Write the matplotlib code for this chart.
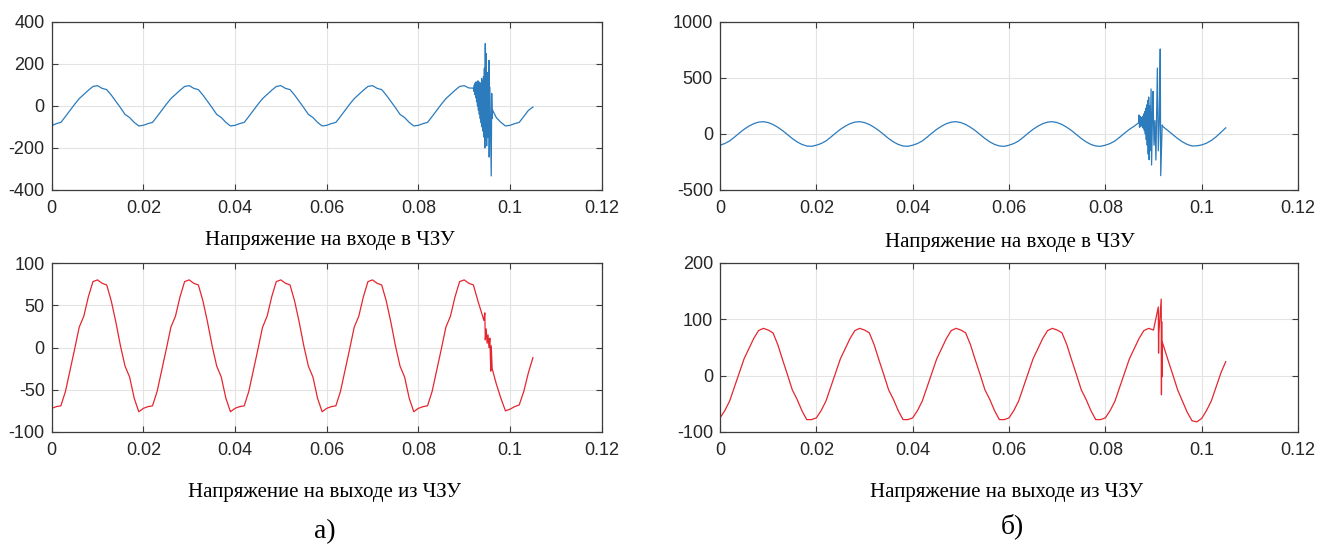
import matplotlib
matplotlib.use("Agg")
import matplotlib.pyplot as plt
import numpy as np

# ---------------- data (time in ms, value) ----------------
# Left top: input voltage (a)
lt_t = [0, 0.2] + list(range(1, 92)) + [
    92.0, 92.1, 92.2, 92.3, 92.4, 92.5, 92.6, 92.7, 92.8, 92.9, 93.0, 93.1, 93.2, 93.3,
    93.4, 93.5, 93.6, 93.7, 93.8, 93.9, 94.0, 94.1, 94.2, 94.3, 94.4, 94.5, 94.6, 94.7,
    94.8, 94.9, 95.0, 95.1, 95.2, 95.3, 95.4, 95.45, 95.6, 95.9, 96.0, 96.1, 96.2] + list(range(97, 106))
lt_v = [30, -92,
        -84, -78, -50, -21, 8, 35, 55, 75, 93, 97, 84, 78, 52, 22, -8, -40, -55, -78, -95,
        -92, -84, -78, -50, -21, 8, 35, 55, 75, 93, 97, 84, 78, 52, 22, -8, -40, -55, -78, -95,
        -92, -84, -78, -50, -21, 8, 35, 55, 75, 93, 97, 84, 78, 52, 22, -8, -40, -55, -78, -95,
        -92, -84, -78, -50, -21, 8, 35, 55, 75, 93, 97, 84, 78, 52, 22, -8, -40, -55, -78, -95,
        -92, -84, -78, -50, -21, 8, 35, 55, 75, 93, 97, 86,
        85, 70, 100, 55, 110, 40, 115, 20, 110, 0, 120, -20, 115, -40,
        100, -60, 110, -80, 130, -100, 120, -120, 140, -148, 180, -200, 297, -160,
        250, -190, 160, -150, 120, -120, 217, -243, 90, -333, 60, -60, -20,
        -55, -78, -95, -92, -84, -78, -50, -21, -5]

# Left bottom: output voltage (a)
lb_t = list(range(0, 94)) + [94.3, 94.5, 94.6, 94.8, 95.0, 95.2, 95.4, 95.6, 95.8, 95.9, 96.1] + list(range(97, 106))
lb_v = [-72, -70, -69, -52, -27, -2, 24, 37, 60, 78, 80, 76, 74, 55, 30, 2, -22, -35, -60, -76,
        -72, -70, -69, -52, -27, -2, 24, 37, 60, 78, 80, 76, 74, 55, 30, 2, -22, -35, -60, -76,
        -72, -70, -69, -52, -27, -2, 24, 37, 60, 78, 80, 76, 74, 55, 30, 2, -22, -35, -60, -76,
        -72, -70, -69, -52, -27, -2, 24, 37, 60, 78, 80, 76, 74, 55, 30, 2, -22, -35, -60, -76,
        -72, -70, -69, -52, -27, -2, 24, 37, 60, 78, 80, 76, 74, 55,
        32, 41, 9, 22, 5, 15, 0, 11, -28, 2, -25,
        -43, -60, -75, -73, -70, -68, -52, -30, -12]

# Right top: input voltage (б)
rt_t = list(range(0, 87)) + [
    86.9, 87.0, 87.1, 87.2, 87.3, 87.4, 87.5, 87.6, 87.7, 87.8, 87.9, 88.0, 88.1, 88.2,
    88.3, 88.4, 88.5, 88.6, 88.7, 88.8, 88.9, 89.0, 89.1, 89.2, 89.3, 89.5, 89.6, 89.8,
    89.9, 90.1, 90.3, 90.5, 90.8, 91.0, 91.2, 91.4, 91.5, 91.8] + list(range(92, 106))
rt_v = [-100, -85, -62, -28, 8, 42, 70, 92, 106, 110, 102, 85, 60, 30, -5, -40, -70, -93, -107, -110,
        -100, -85, -62, -28, 8, 42, 70, 92, 106, 110, 102, 85, 60, 30, -5, -40, -70, -93, -107, -110,
        -100, -85, -62, -28, 8, 42, 70, 92, 106, 110, 102, 85, 60, 30, -5, -40, -70, -93, -107, -110,
        -100, -85, -62, -28, 8, 42, 70, 92, 106, 110, 102, 85, 60, 30, -5, -40, -70, -93, -107, -110,
        -100, -85, -62, -28, 8, 42, 70,
        100, 170, 60, 160, 70, 140, 80, 150, 60, 160, 50, 180, 30, 200,
        0, 230, -50, 260, -100, 300, -180, 330, -230, 250, -150, 402, -277, 200,
        380, -100, 120, -232, 589, -150, 120, 759, -372, 80,
        65, 30, -5, -40, -70, -93, -107, -105, -98, -82, -58, -25, 15, 55]

# Right bottom: output voltage (б)
rb_t = list(range(0, 91)) + [91.0, 91.05, 91.1, 91.6, 91.65, 91.7, 91.75, 91.8] + list(range(92, 106))
rb_v = [-75, -62, -45, -20, 5, 30, 48, 66, 80, 84, 81, 76, 55, 28, 2, -25, -42, -62, -78, -78,
        -75, -62, -45, -20, 5, 30, 48, 66, 80, 84, 81, 76, 55, 28, 2, -25, -42, -62, -78, -78,
        -75, -62, -45, -20, 5, 30, 48, 66, 80, 84, 81, 76, 55, 28, 2, -25, -42, -62, -78, -78,
        -75, -62, -45, -20, 5, 30, 48, 66, 80, 84, 81, 76, 55, 28, 2, -25, -42, -62, -78, -78,
        -75, -62, -45, -20, 5, 30, 48, 66, 80, 84, 81,
        122, 40, 75, 136, -34, 96, -2, 60,
        55, 28, 2, -25, -45, -65, -80, -82, -76, -62, -45, -20, 5, 25]

x_ticks = [0, 0.02, 0.04, 0.06, 0.08, 0.1, 0.12]
x_ticklabels = ["0", "0.02", "0.04", "0.06", "0.08", "0.1", "0.12"]
lt_yticks = [-400, -200, 0, 200, 400]
lb_yticks = [-100, -50, 0, 50, 100]
rt_yticks = [-500, 0, 500, 1000]
rb_yticks = [-100, 0, 100, 200]

cap_in = "Напряжение на входе в ЧЗУ"
cap_out = "Напряжение на выходе из ЧЗУ"

# ---------------- figure ----------------
W, H = 1319, 546
fig = plt.figure(figsize=(W / 100, H / 100), dpi=100)
fig.patch.set_facecolor("white")

BLUE = "#2b7bbd"
RED = "#e5262e"


def make_ax(x0, y0, x1, y1):
    return fig.add_axes([x0 / W, 1 - y1 / H, (x1 - x0) / W, (y1 - y0) / H])


def style(ax, yticks):
    ax.set_xlim(0, 0.12)
    ax.set_ylim(yticks[0], yticks[-1])
    ax.set_xticks(x_ticks)
    ax.set_xticklabels(x_ticklabels)
    ax.set_yticks(yticks)
    ax.set_yticklabels([str(v) for v in yticks])
    ax.grid(True, color="#e3e3e3", lw=0.8)
    ax.set_axisbelow(True)
    for s in ax.spines.values():
        s.set_color("#3c3c3c")
        s.set_linewidth(0.9)
    ax.tick_params(direction="in", length=4, width=0.8, color="#3c3c3c",
                   top=True, right=True, labelsize=13, labelcolor="#262626")
    ax.tick_params(axis="x", pad=7)
    ax.tick_params(axis="y", pad=5)
    for lab in ax.get_xticklabels() + ax.get_yticklabels():
        lab.set_family("Liberation Sans")


axes_spec = [
    ((51.7, 22, 601.7, 190), lt_t, lt_v, BLUE, lt_yticks),
    ((51.7, 263, 601.7, 432), lb_t, lb_v, RED, lb_yticks),
    ((720, 22, 1298, 190), rt_t, rt_v, BLUE, rt_yticks),
    ((720, 263, 1298, 432), rb_t, rb_v, RED, rb_yticks),
]
for box, t, v, c, yt in axes_spec:
    ax = make_ax(*box)
    ax.plot(np.array(t) / 1000.0, v, color=c, lw=0.9)
    style(ax, yt)

serif = "Liberation Serif"
fig.text(330 / W, 1 - 240 / H, cap_in, ha="center", va="center", family=serif, fontsize=15)
fig.text(1010 / W, 1 - 242 / H, cap_in, ha="center", va="center", family=serif, fontsize=15)
fig.text(325 / W, 1 - 493 / H, cap_out, ha="center", va="center", family=serif, fontsize=15)
fig.text(1007 / W, 1 - 492 / H, cap_out, ha="center", va="center", family=serif, fontsize=15)
fig.text(325 / W, 1 - 532 / H, "а)", ha="center", va="center", family=serif, fontsize=20)
fig.text(1012 / W, 1 - 526 / H, "б)", ha="center", va="center", family=serif, fontsize=20)

fig.savefig("out.png", dpi=100, facecolor="white")
